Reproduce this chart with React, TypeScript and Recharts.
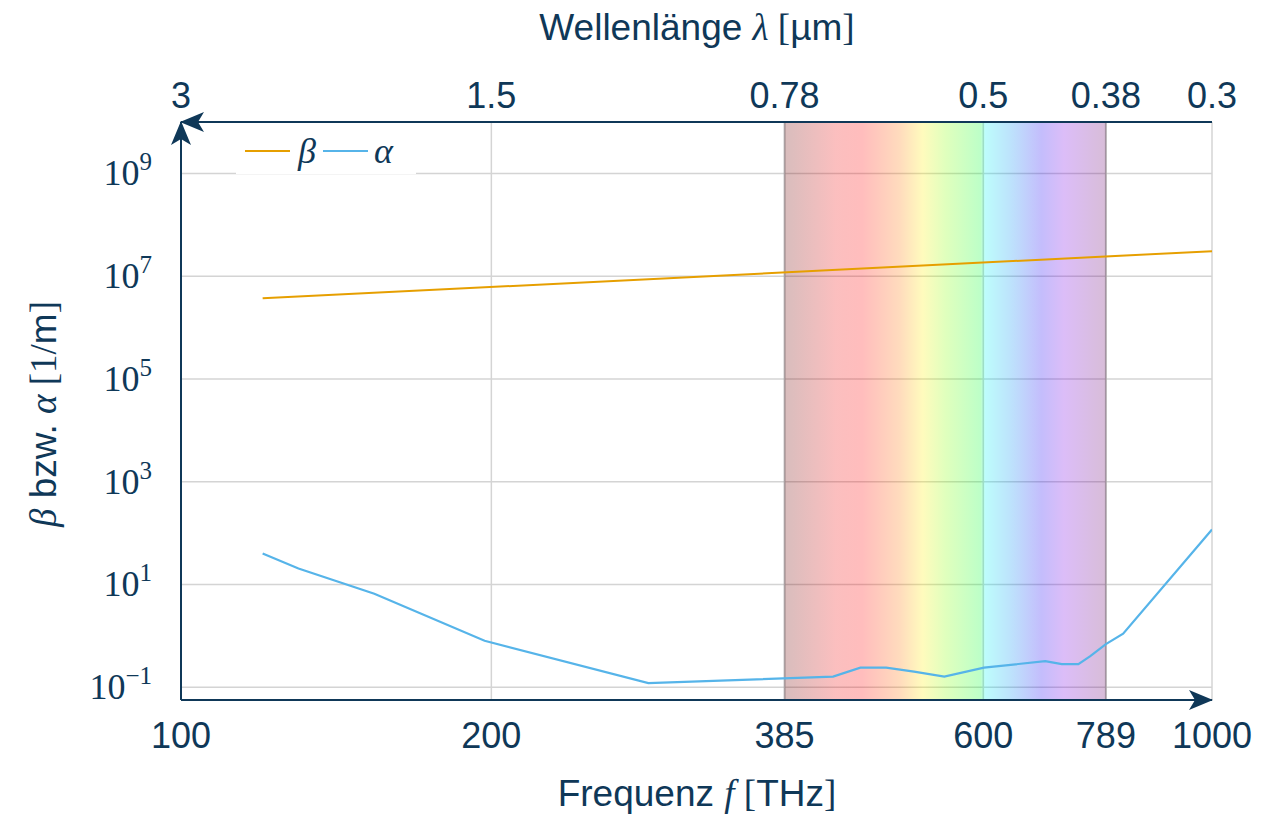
import React from 'react';
import { ComposedChart, Line, XAxis, YAxis, CartesianGrid, ReferenceArea } from 'recharts';

// ---------- data ----------
const freqTicks = [100, 200, 385, 600, 789, 1000];
const waveLabels = ['3', '1.5', '0.78', '0.5', '0.38', '0.3'];
const yTicks = [0.1, 10, 1e3, 1e5, 1e7, 1e9];
const yExponents = ['−1', '1', '3', '5', '7', '9'];

const betaFreq = [120, 1000];
const betaValues = [3.7e6, 3.06e7];

const alphaFreq = [120, 130, 154, 197, 284, 429, 456, 483, 514, 550, 601, 689, 715, 742, 762, 789, 820, 1000];
const alphaValues = [40, 20.4, 6.6, 0.8, 0.12, 0.16, 0.24, 0.24, 0.2, 0.16, 0.24, 0.32, 0.28, 0.28, 0.4, 0.69, 1.1, 117];

const visibleBand = [385, 789];

// ---------- style ----------
const W = 1279;
const H = 815;
const NAVY = '#0f3858';
const SANS = '"Liberation Sans", Arial, Helvetica, sans-serif';
const SERIF = '"Liberation Serif", "DejaVu Serif", serif';
const ORANGE = '#E69F00';
const BLUE = '#56B4E9';
const GRID = '#d4d4d4';

const betaData = betaFreq.map((f, i) => ({ f, v: betaValues[i] }));
const alphaData = alphaFreq.map((f, i) => ({ f, v: alphaValues[i] }));

const YTick = (props: any) => {
  const { x, y, payload } = props;
  const idx = yTicks.findIndex((t) => Math.abs(Math.log10(t) - Math.log10(payload.value)) < 1e-6);
  const exp = idx >= 0 ? yExponents[idx] : String(Math.round(Math.log10(payload.value)));
  return (
    <text x={x} y={y} dy={12} textAnchor="end" fill={NAVY} fontFamily={SERIF} fontSize={36}>
      10
      <tspan dy={-15} fontSize={25}>
        {exp}
      </tspan>
    </text>
  );
};

const spectrumStops: [number, string][] = [
  [0, '#690000'],
  [0.16, '#f00808'],
  [0.24, '#ff0000'],
  [0.3, '#ff3a00'],
  [0.36, '#ff7800'],
  [0.43, '#fff000'],
  [0.5, '#88ff00'],
  [0.61, '#00ff2b'],
  [0.625, '#00f4f4'],
  [0.7, '#0097f3'],
  [0.8, '#1c00f3'],
  [0.87, '#7800e4'],
  [1, '#690069'],
];

export default function App() {
  return (
    <div style={{ position: 'absolute', left: 0, top: 0, width: W, height: H, background: '#fff' }}>
      <ComposedChart
        width={W}
        height={H}
        margin={{ top: 62, right: 67, bottom: 35, left: 71 }}
      >
        <defs>
          <linearGradient id="spectrum" x1="0" y1="0" x2="1" y2="0">
            {spectrumStops.map(([o, c]) => (
              <stop key={o} offset={o} stopColor={c} stopOpacity={0.26} />
            ))}
          </linearGradient>
          <marker
            id="arrowHead"
            viewBox="0 0 24 20"
            refX="23"
            refY="10"
            markerWidth="24"
            markerHeight="20"
            orient="auto-start-reverse"
            markerUnits="userSpaceOnUse"
          >
            <path d="M0,0 L24,10 L0,20 L6,10 Z" fill={NAVY} />
          </marker>
        </defs>
        <CartesianGrid stroke={GRID} strokeWidth={1.5} />
        <XAxis
          dataKey="f"
          type="number"
          scale="log"
          domain={[100, 1000]}
          allowDataOverflow
          ticks={freqTicks}
          interval={0}
          tickLine={false}
          tickSize={0}
          tickMargin={22}
          height={80}
          axisLine={{ stroke: NAVY, strokeWidth: 2, markerEnd: 'url(#arrowHead)' }}
          tick={{ fill: NAVY, fontSize: 36, fontFamily: SANS }}
        />
        <XAxis
          xAxisId="top"
          orientation="top"
          dataKey="f"
          type="number"
          scale="log"
          domain={[100, 1000]}
          allowDataOverflow
          ticks={freqTicks}
          interval={0}
          tickLine={false}
          tickSize={0}
          tickMargin={14}
          height={60}
          tickFormatter={(v: number) => {
            const i = freqTicks.indexOf(v);
            return i >= 0 ? waveLabels[i] : '';
          }}
          axisLine={{ stroke: NAVY, strokeWidth: 2, markerStart: 'url(#arrowHead)' }}
          tick={{ fill: NAVY, fontSize: 36, fontFamily: SANS }}
        />
        <YAxis
          type="number"
          scale="log"
          domain={[0.0562, 1e10]}
          allowDataOverflow
          ticks={yTicks}
          interval={0}
          tickLine={false}
          tickSize={0}
          tickMargin={29}
          width={110}
          axisLine={{ stroke: NAVY, strokeWidth: 2, markerStart: 'url(#arrowHead)' }}
          tick={<YTick />}
        />
        <ReferenceArea
          x1={visibleBand[0]}
          x2={visibleBand[1]}
          fill="url(#spectrum)"
          fillOpacity={1}
          stroke="#7a7076"
          strokeOpacity={0.4}
          strokeWidth={2}
          ifOverflow="hidden"
        />
        <Line
          data={betaData}
          dataKey="v"
          type="linear"
          stroke={ORANGE}
          strokeWidth={2}
          dot={false}
          isAnimationActive={false}
        />
        <Line
          data={alphaData}
          dataKey="v"
          type="linear"
          stroke={BLUE}
          strokeWidth={2.2}
          dot={false}
          isAnimationActive={false}
        />
        <Line
          xAxisId="top"
          data={betaData}
          dataKey="v"
          type="linear"
          stroke="none"
          dot={false}
          legendType="none"
          isAnimationActive={false}
        />
        <text x={697} y={40} textAnchor="middle" fill={NAVY} fontSize={37} fontFamily={SANS}>
          Wellenlänge{' '}
          <tspan fontFamily={SERIF} fontStyle="italic">λ</tspan>
          <tspan fontFamily={SERIF}> [</tspan>
          <tspan>µm</tspan>
          <tspan fontFamily={SERIF}>]</tspan>
        </text>
        <text x={697} y={806} textAnchor="middle" fill={NAVY} fontSize={37} fontFamily={SANS}>
          Frequenz{' '}
          <tspan fontFamily={SERIF} fontStyle="italic">f</tspan>
          <tspan fontFamily={SERIF}> [</tspan>
          <tspan>THz</tspan>
          <tspan fontFamily={SERIF}>]</tspan>
        </text>
        <text
          x={56}
          y={414}
          transform="rotate(-90 56 414)"
          textAnchor="middle"
          fill={NAVY}
          fontSize={37}
          fontFamily={SANS}
        >
          <tspan fontFamily={SERIF} fontStyle="italic">β</tspan>
          <tspan> bzw. </tspan>
          <tspan fontFamily={SERIF} fontStyle="italic">α</tspan>
          <tspan fontFamily={SERIF}> [1/</tspan>
          <tspan>m</tspan>
          <tspan fontFamily={SERIF}>]</tspan>
        </text>
      </ComposedChart>
      <div
        style={{
          position: 'absolute',
          left: 236,
          top: 128,
          width: 180,
          height: 46,
          background: '#fff',
          display: 'flex',
          alignItems: 'center',
          paddingLeft: 9,
          boxSizing: 'border-box',
          fontFamily: SERIF,
          fontStyle: 'italic',
          fontSize: 36,
          color: NAVY,
        }}
      >
        <span style={{ display: 'inline-block', width: 45, height: 2, background: ORANGE }} />
        <span style={{ margin: '0 7px 0 8px', lineHeight: 1 }}>β</span>
        <span style={{ display: 'inline-block', width: 45, height: 2, background: BLUE }} />
        <span style={{ margin: '0 0 0 6px', lineHeight: 1 }}>α</span>
      </div>
    </div>
  );
}
